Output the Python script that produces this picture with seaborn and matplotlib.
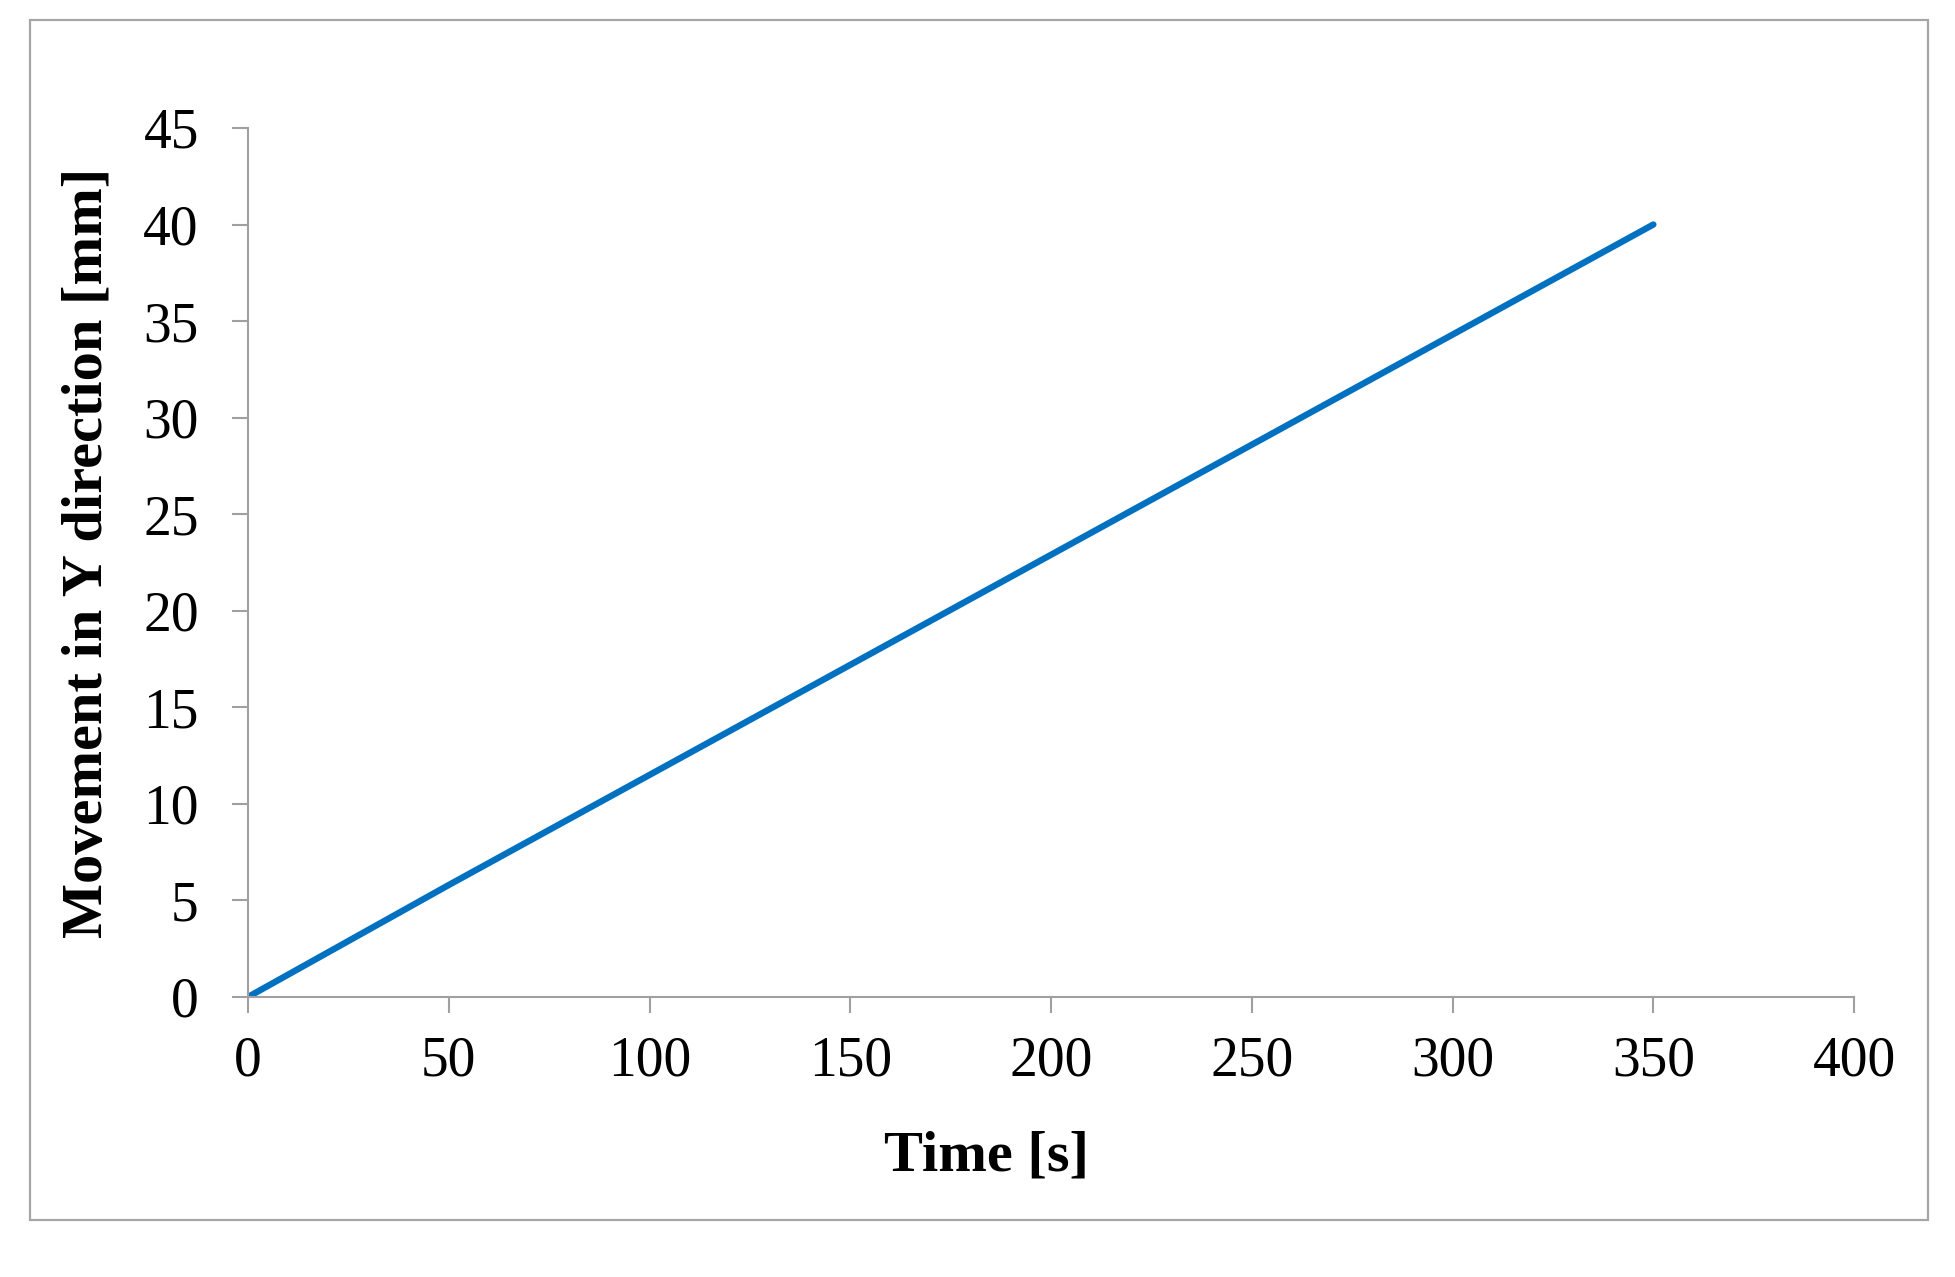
import numpy as np
import pandas as pd
import matplotlib
matplotlib.use("Agg")
import matplotlib.pyplot as plt
import seaborn as sns
from matplotlib.patches import Rectangle

## data
time_s = [0, 50, 100, 150, 200, 250, 300, 350]
movement_mm = [0, 5.8, 11.5, 17.2, 22.9, 28.6, 34.3, 40.0]
x_ticks = [0, 50, 100, 150, 200, 250, 300, 350, 400]
y_ticks = [0, 5, 10, 15, 20, 25, 30, 35, 40, 45]

df = pd.DataFrame({"Time": time_s, "Movement": movement_mm})

sns.set_style("white")
plt.rcParams["font.family"] = ["Liberation Serif", "DejaVu Serif"]
plt.rcParams["text.color"] = "black"
plt.rcParams["axes.labelcolor"] = "black"

fig = plt.figure(figsize=(19.55, 12.77), dpi=100)
ax = fig.add_axes([0.1269, 0.2193, 0.8215, 0.6805])

## outer chart frame
fig.patches.append(Rectangle((0.0153, 0.0446), 0.9710, 0.9397,
                             transform=fig.transFigure, fill=False,
                             edgecolor="#A6A6A6", linewidth=1.6))

sns.lineplot(data=df, x="Time", y="Movement", color="#0070C0",
             linewidth=4.6, ax=ax, solid_capstyle="round")

ax.set_xlim(0, 400)
ax.set_ylim(0, 45)
ax.set_xticks(x_ticks)
ax.set_yticks(y_ticks)
ax.tick_params(axis="both", labelsize=40, direction="out", length=11.5,
               width=1.5, color="#A0A0A0", labelcolor="black",
               bottom=True, left=True)
ax.tick_params(axis="x", pad=16)
ax.tick_params(axis="y", pad=24)

for side in ["top", "right"]:
    ax.spines[side].set_visible(False)
for side in ["left", "bottom"]:
    ax.spines[side].set_color("#A0A0A0")
    ax.spines[side].set_linewidth(1.5)

ax.set_xlabel("Time [s]", fontsize=42, fontweight="bold", color="black")
ax.set_ylabel("Movement in Y direction [mm]", fontsize=42, fontweight="bold",
              color="black")
ax.xaxis.set_label_coords(0.46, -0.184)
ax.yaxis.set_label_coords(-0.100, 0.511)
ax.xaxis.label.set_va("center")
ax.yaxis.label.set_va("center")

fig.savefig("out.png", dpi=100)
